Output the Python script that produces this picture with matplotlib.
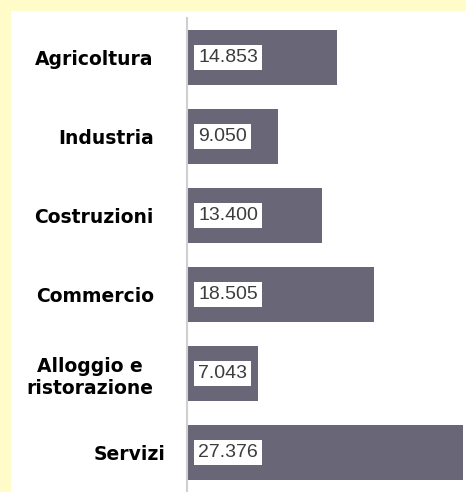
import matplotlib.pyplot as plt
from matplotlib.patches import Rectangle
from matplotlib.transforms import ScaledTranslation

categories = ["Agricoltura", "Industria", "Costruzioni", "Commercio",
              "Alloggio e\nristorazione", "Servizi"]
values = [14853, 9050, 13400, 18505, 7043, 27376]
value_labels = ["14.853", "9.050", "13.400", "18.505", "7.043", "27.376"]

W, H = 466, 492
fig = plt.figure(figsize=(W / 100, H / 100), dpi=100)
fig.patch.set_facecolor('#fffcc9')
# white panel
panel = Rectangle((11 / W, 0), 1 - 11 / W, 1 - 11 / H,
                  transform=fig.transFigure, facecolor='white',
                  edgecolor='none', zorder=-10)
fig.add_artist(panel)

ax = fig.add_axes([187 / W, 0, (W - 187) / W, (H - 18) / H])
ax.set_facecolor('none')

y = list(range(len(categories)))
ax.barh(y, values, height=0.7, color='#686677', zorder=2)
ax.set_ylim(len(categories) - 0.5, -0.5)
ax.set_xlim(0, 27376 * 279 / 276)

for yi, lab in zip(y, value_labels):
    ax.annotate(lab, (0, yi), xytext=(8, 0), textcoords='offset points',
                ha='left', va='center', fontsize=14, color='#3c3c3c',
                family='Liberation Sans', zorder=3,
                bbox=dict(boxstyle='square,pad=0.2', facecolor='white',
                          edgecolor='none'))

ax.set_yticks(y)
ax.set_yticklabels(categories, fontsize=13.5, fontweight='bold',
                   family='DejaVu Sans', linespacing=1.2,
                   multialignment='center')
ax.tick_params(axis='y', length=0, pad=24)
ax.set_xticks([])
for s in ['top', 'right', 'bottom']:
    ax.spines[s].set_visible(False)
ax.spines['left'].set_color('#d0d0d0')
ax.spines['left'].set_linewidth(1.5)

# "Servizi" sits a bit closer to the axis in the original
lbl = ax.get_yticklabels()[-1]
lbl.set_transform(lbl.get_transform() + ScaledTranslation(12 / 100, 0, fig.dpi_scale_trans))

fig.savefig('out.png', dpi=100, facecolor=fig.get_facecolor())
